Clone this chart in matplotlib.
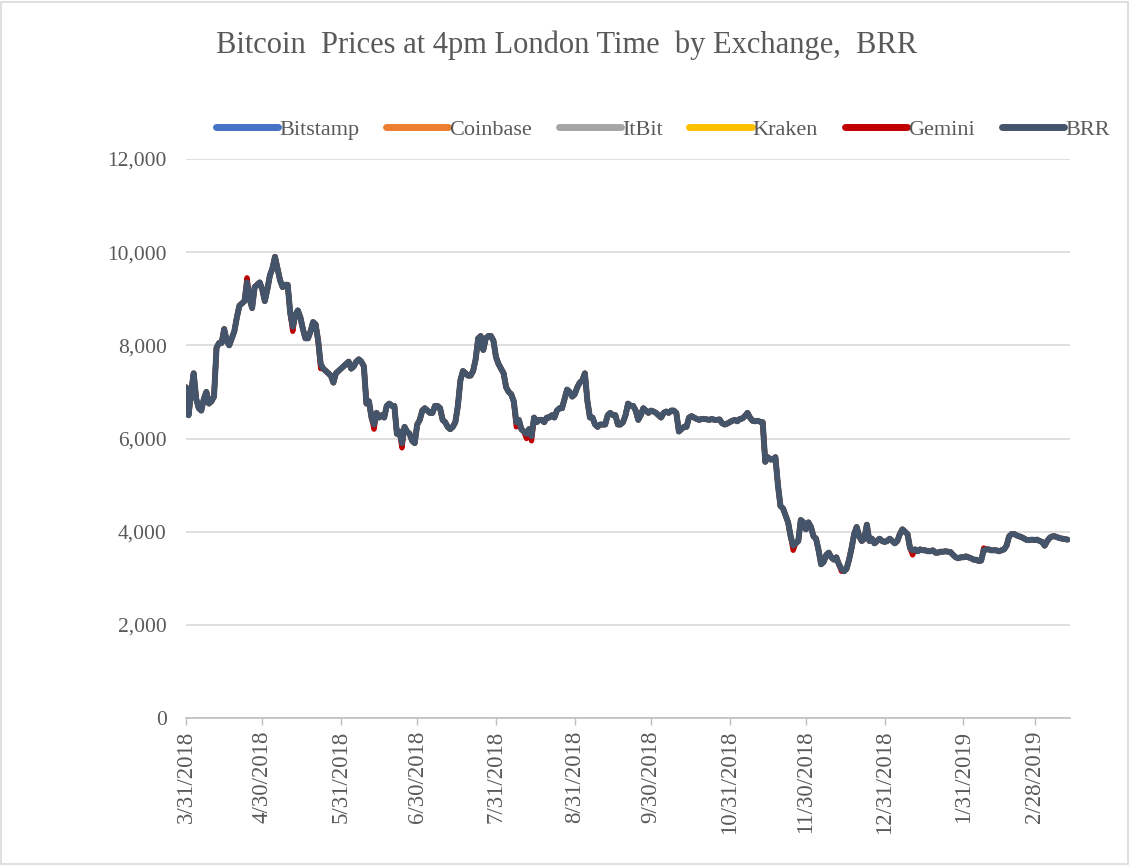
import matplotlib
matplotlib.use("Agg")
import matplotlib.pyplot as plt
from matplotlib.patches import Rectangle
from matplotlib.ticker import FuncFormatter, MultipleLocator
import pandas as pd

# ---------------- data (BRR, USD at 4pm London) ----------------
start_date = "2018-03-31"
brr_mar18 = [7100]
brr_apr18 = [6500, 7000, 7400, 6850, 6650, 6600, 6850, 7000, 6750, 6800,
             6900, 7950, 8050, 8050, 8350, 8100, 8000, 8150, 8300, 8600,
             8850, 8900, 8950, 9350, 9000, 8800, 9250, 9300, 9350, 9200]
brr_may18 = [8950, 9200, 9500, 9650, 9900, 9650, 9400, 9250, 9300, 9300,
             8700, 8400, 8650, 8750, 8600, 8350, 8150, 8150, 8300, 8500,
             8450, 8100, 7600, 7500, 7450, 7400, 7350, 7200, 7400, 7450, 7500]
brr_jun18 = [7550, 7600, 7650, 7500, 7550, 7650, 7700, 7650, 7550, 6750,
             6800, 6450, 6300, 6550, 6450, 6500, 6450, 6700, 6750, 6700,
             6700, 6100, 6150, 5900, 6250, 6150, 6100, 5950, 5900, 6300]
brr_jul18 = [6400, 6600, 6650, 6600, 6550, 6550, 6700, 6700, 6650, 6400,
             6350, 6250, 6200, 6250, 6350, 6700, 7250, 7450, 7400, 7350,
             7350, 7450, 7700, 8150, 8200, 7900, 8150, 8200, 8200, 8100, 7750]
brr_aug18 = [7600, 7500, 7400, 7100, 7000, 6950, 6800, 6350, 6400, 6200,
             6150, 6100, 6200, 6050, 6450, 6350, 6400, 6400, 6350, 6450,
             6450, 6500, 6450, 6600, 6650, 6650, 6850, 7050, 7000, 6900, 6950]
brr_sep18 = [7100, 7200, 7250, 7400, 6800, 6450, 6450, 6300, 6250, 6300,
             6300, 6300, 6500, 6550, 6500, 6500, 6300, 6300, 6350, 6500,
             6750, 6700, 6700, 6600, 6400, 6500, 6650, 6600, 6550, 6600]
brr_oct18 = [6580, 6550, 6500, 6450, 6550, 6580, 6550, 6600, 6600, 6550,
             6150, 6200, 6250, 6250, 6450, 6480, 6450, 6420, 6400, 6420,
             6420, 6410, 6400, 6420, 6400, 6400, 6410, 6330, 6300, 6320, 6350]
brr_nov18 = [6380, 6400, 6370, 6420, 6430, 6480, 6550, 6450, 6380, 6370,
             6380, 6360, 6350, 5500, 5600, 5550, 5550, 5600, 5000, 4550,
             4500, 4350, 4200, 3900, 3700, 3750, 3800, 4250, 4200, 4050]
brr_dec18 = [4200, 4100, 3900, 3850, 3600, 3300, 3350, 3500, 3550, 3450,
             3400, 3450, 3300, 3200, 3150, 3200, 3400, 3650, 3950, 4100,
             3900, 3800, 3850, 4150, 3800, 3850, 3750, 3800, 3850, 3800, 3780]
brr_jan19 = [3800, 3850, 3800, 3750, 3800, 3950, 4050, 4000, 3950, 3650,
             3600, 3620, 3580, 3620, 3600, 3600, 3580, 3580, 3600, 3550,
             3550, 3570, 3570, 3580, 3570, 3560, 3500, 3450, 3430, 3450, 3450]
brr_feb19 = [3470, 3450, 3430, 3400, 3400, 3370, 3380, 3600, 3620, 3620,
             3600, 3600, 3600, 3580, 3600, 3620, 3700, 3900, 3950, 3950,
             3920, 3900, 3880, 3850, 3820, 3820, 3830, 3820]
brr_mar19 = [3830, 3800, 3780, 3700, 3800, 3870, 3900, 3900, 3880, 3860,
             3850, 3840, 3830]

# Gemini prints that differ visibly from BRR (date -> price)
gemini_diffs = {"2018-04-24": 9450, "2018-05-12": 8300, "2018-05-23": 7500,
                "2018-06-13": 6200, "2018-06-24": 5800, "2018-08-08": 6250,
                "2018-08-12": 6000, "2018-08-14": 5950, "2018-11-25": 3600,
                "2018-12-14": 3150, "2019-01-11": 3500, "2019-02-08": 3650}

series_names = ["Bitstamp", "Coinbase", "ItBit", "Kraken", "Gemini", "BRR"]
series_colors = ["#4472C4", "#ED7D31", "#A5A5A5", "#FFC000", "#C00000", "#44546A"]
date_ticks = ["2018-03-31", "2018-04-30", "2018-05-31", "2018-06-30", "2018-07-31",
              "2018-08-31", "2018-09-30", "2018-10-31", "2018-11-30", "2018-12-31",
              "2019-01-31", "2019-02-28"]
title = "Bitcoin  Prices at 4pm London Time  by Exchange,  BRR"

brr = (brr_mar18 + brr_apr18 + brr_may18 + brr_jun18 + brr_jul18 + brr_aug18 +
       brr_sep18 + brr_oct18 + brr_nov18 + brr_dec18 + brr_jan19 + brr_feb19 + brr_mar19)
dates = pd.date_range(start_date, periods=len(brr), freq="D")
brr_s = pd.Series(brr, index=dates, dtype=float)
gemini_s = brr_s.copy()
for d, v in gemini_diffs.items():
    gemini_s[pd.Timestamp(d)] = v
series_values = {"Bitstamp": brr_s, "Coinbase": brr_s, "ItBit": brr_s,
                 "Kraken": brr_s, "Gemini": gemini_s, "BRR": brr_s}

# ---------------- plot ----------------
plt.rcParams["font.family"] = ["Liberation Serif", "DejaVu Serif"]
text_color = "#595959"

fig = plt.figure(figsize=(11.29, 8.65), dpi=100)
fig.patches.append(Rectangle((0.001, 0.001), 0.998, 0.997, transform=fig.transFigure,
                             fill=False, edgecolor="#d9d9d9", linewidth=1.2))
ax = fig.add_axes([0.1648, 0.1699, 0.7830, 0.6463])

for name, col in zip(series_names, series_colors):
    s = series_values[name]
    lw = 4.3 if name == "BRR" else 3.8
    ax.plot(s.index, s.values, color=col, lw=lw, label=name,
            solid_joinstyle="round", solid_capstyle="round", zorder=3)

ax.set_ylim(0, 12000)
ax.set_xlim(pd.Timestamp("2018-03-31"), pd.Timestamp("2019-03-14"))
ax.yaxis.set_major_locator(MultipleLocator(2000))
ax.yaxis.set_major_formatter(FuncFormatter(lambda v, p: f"{int(v):,}"))
ax.set_xticks([pd.Timestamp(d) for d in date_ticks])
ax.set_xticklabels([f"{pd.Timestamp(d).month}/{pd.Timestamp(d).day}/{pd.Timestamp(d).year}"
                    for d in date_ticks], rotation=90, va="top", ha="center")

ax.grid(axis="y", color="#d9d9d9", lw=1.2, zorder=0)
ax.set_axisbelow(True)
for sp in ["left", "right", "top"]:
    ax.spines[sp].set_visible(False)
ax.spines["bottom"].set_color("#bfbfbf")
ax.spines["bottom"].set_linewidth(1.2)
ax.tick_params(axis="y", length=0, pad=14, labelsize=15.5, labelcolor=text_color)
ax.tick_params(axis="x", length=5, width=1, color="#bfbfbf", pad=4, labelsize=16.5,
               labelcolor=text_color)

fig.text(0.502, 0.948, title, ha="center", va="center", fontsize=22, color=text_color)

leg = ax.legend(loc="center", bbox_to_anchor=(0.587, 0.850), bbox_transform=fig.transFigure,
                ncol=6, frameon=False, fontsize=16, handlelength=2.8, handletextpad=0.05,
                columnspacing=1.2, labelcolor=text_color)
for h in leg.get_lines():
    h.set_linewidth(5)
    h.set_solid_capstyle("round")

fig.savefig("out.png", dpi=100)
